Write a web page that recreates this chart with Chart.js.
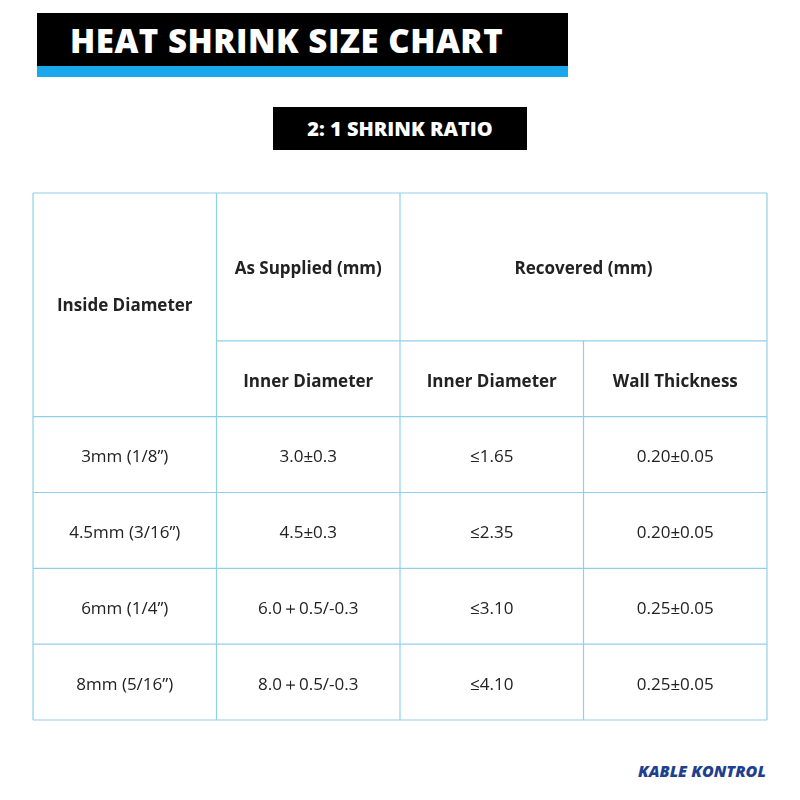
<!DOCTYPE html>
<html><head><meta charset="utf-8">
<script src="https://cdn.jsdelivr.net/npm/chart.js@4"></script>
<style>
body{margin:0;width:800px;height:800px;background:#fff;position:relative;font-family:"Open Sans",sans-serif;overflow:hidden}
#t1{position:absolute;left:37px;top:13px;width:531px;height:53px;background:#000;color:#fff;font:900 33px "Open Sans";line-height:55px;padding-left:33px;box-sizing:border-box;letter-spacing:0.5px}
#bar{position:absolute;left:37px;top:66px;width:531px;height:11px;background:#1aa7ec}
#t2{position:absolute;left:273px;top:107px;width:254px;height:43px;background:#000;color:#fff;font:800 20px "Open Sans";line-height:44px;text-align:center}
#logo{position:absolute;left:638px;top:760px;font:italic 900 16px "Open Sans";color:#1f3f8f}
#wrap{position:absolute;left:32px;top:192px;width:736px;height:529px}
</style></head><body>
<div id="t1">HEAT SHRINK SIZE CHART</div><div id="bar"></div>
<div id="t2">2: 1 SHRINK RATIO</div>
<div id="logo">KABLE KONTROL</div>
<div id="wrap"><canvas id="c"></canvas></div>
<script>
const sizes=["3mm (1/8”)","4.5mm (3/16”)","6mm (1/4”)","8mm (5/16”)"];
const supplied=["3.0±0.3","4.5±0.3","6.0＋0.5/-0.3","8.0＋0.5/-0.3"];
const recInner=["≤1.65","≤2.35","≤3.10","≤4.10"];
const wall=["0.20±0.05","0.20±0.05","0.25±0.05","0.25±0.05"];
const colEdges=[0,1,2,3,4];
const rowEdges=[0,1.95,2.95,3.95,4.95,5.95,6.95];
const tablePlugin={id:'tbl',afterDraw(ch){
 const x=ch.scales.x,y=ch.scales.y,ctx=ch.ctx;
 const X=v=>x.getPixelForValue(v),Y=v=>y.getPixelForValue(v);
 ctx.save();ctx.strokeStyle='#8fd0e6';ctx.lineWidth=1.2;
 const line=(a,b,c,d)=>{ctx.beginPath();ctx.moveTo(a,b);ctx.lineTo(c,d);ctx.stroke();};
 line(X(0),Y(0),X(4),Y(0));
 line(X(1),Y(rowEdges[1]),X(4),Y(rowEdges[1]));
 for(let i=2;i<rowEdges.length;i++)line(X(0),Y(rowEdges[i]),X(4),Y(rowEdges[i]));
 [0,1,2,4].forEach(c=>line(X(c),Y(0),X(c),Y(6.95)));
 line(X(3),Y(1.95),X(3),Y(6.95));
 ctx.fillStyle='#222';ctx.textAlign='center';ctx.textBaseline='middle';
 const t=(s,cx,cy)=>ctx.fillText(s,X(cx),Y(cy)+3);
 ctx.font='bold 17px "Open Sans"';
 t("Inside Diameter",0.5,1.45);t("As Supplied (mm)",1.5,0.97);t("Recovered (mm)",3,0.97);
 t("Inner Diameter",1.5,2.45);t("Inner Diameter",2.5,2.45);t("Wall Thickness",3.5,2.45);
 ctx.font='17px "Open Sans"';
 for(let r=0;r<sizes.length;r++){const cy=rowEdges[r+2]+0.5;
  t(sizes[r],0.5,cy);t(supplied[r],1.5,cy);t(recInner[r],2.5,cy);t(wall[r],3.5,cy);}
 ctx.restore();}};
new Chart(document.getElementById('c'),{type:'scatter',data:{datasets:[{data:[]}]},
 options:{responsive:true,maintainAspectRatio:false,animation:false,layout:{padding:1},
 plugins:{legend:{display:false},tooltip:{enabled:false}},
 scales:{x:{type:'linear',min:0,max:4,display:false},y:{type:'linear',min:0,max:6.95,reverse:true,display:false}}},
 plugins:[tablePlugin]});
</script></body></html>
